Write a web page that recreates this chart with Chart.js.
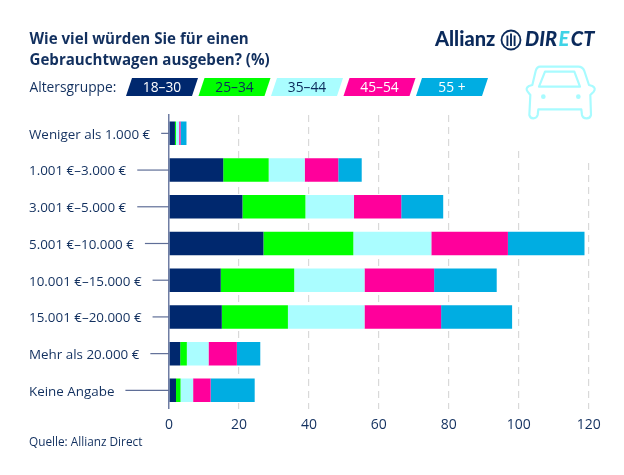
<!DOCTYPE html>
<html lang="de">
<head>
<meta charset="utf-8">
<style>html,body{margin:0;padding:0;background:#fff}canvas{display:block}</style>
<script src="https://cdn.jsdelivr.net/npm/chart.js@4"></script>
</head>
<body>
<canvas id="c" width="624" height="475"></canvas>
<script>
const categories = ["Weniger als 1.000 €","1.001 €–3.000 €","3.001 €–5.000 €","5.001 €–10.000 €","10.001 €–15.000 €","15.001 €–20.000 €","Mehr als 20.000 €","Keine Angabe"];
const seriesNames = ["18–30","25–34","35–44","45–54","55 +"];
const age18to30 = [1.7,15.5,21,27,14.8,15.1,3.2,2];
const age25to34 = [0.3,13,18,25.7,21,18.9,1.9,1.3];
const age35to44 = [0.9,10.3,13.9,22.3,20.1,21.9,6.2,3.6];
const age45to54 = [0.4,9.6,13.5,21.9,19.9,21.9,8.1,5];
const age55plus = [1.7,6.7,12,21.9,17.9,20.3,6.7,12.6];
const seriesValues = [age18to30,age25to34,age35to44,age45to54,age55plus];
const seriesColors = ["#00286E","#00FF00","#AAFDFF","#FF009B","#00ADE2"];
const legendTextColors = ["#ffffff","#0B2A5B","#0B2A5B","#ffffff","#ffffff"];
const titleLines = ["Wie viel würden Sie für einen","Gebrauchtwagen ausgeben? (%)"];
const legendTitle = "Altersgruppe:";
const sourceText = "Quelle: Allianz Direct";
const NAVY = "#12305F";
const FONT = '"Open Sans",sans-serif';
const LOGOFONT = '"Lato",sans-serif';
const LABEL_SIZE = 13.4;

const decorations = {
  id:"decorations",
  beforeDatasetsDraw(chart){
    const {ctx, scales:{x,y}} = chart;
    ctx.save();
    // white halo around the car icon hides the top of the right grid lines
    ctx.fillStyle="#fff";
    ctx.beginPath();
    ctx.moveTo(x.getPixelForValue(90),y.top-5);
    ctx.lineTo(620,y.top-5);ctx.lineTo(620,160);
    ctx.lineTo(x.getPixelForValue(110),160);ctx.lineTo(x.getPixelForValue(110),149);
    ctx.lineTo(x.getPixelForValue(90),149);ctx.closePath();ctx.fill();
    // leader lines from each label to the axis
    ctx.font=LABEL_SIZE+'px '+FONT;
    ctx.strokeStyle="#5F6E97";ctx.lineWidth=1.2;
    categories.forEach((c,i)=>{
      const py=y.getPixelForValue(i);
      ctx.beginPath();
      ctx.moveTo(y.left+ctx.measureText(c).width+11,py);
      ctx.lineTo(x.left,py);ctx.stroke();
    });
    ctx.restore();
  },
  afterDraw(chart){
    const ctx=chart.ctx;
    ctx.save();
    ctx.textBaseline="middle";ctx.textAlign="left";
    ctx.fillStyle=NAVY;
    ctx.font='bold 15.1px '+FONT;
    ctx.fillText(titleLines[0],29.5,40);
    ctx.fillText(titleLines[1],29.5,60.5);
    ctx.font='13.8px '+FONT;
    ctx.fillText(legendTitle,29.5,88.5);
    ctx.font='11.8px '+FONT;
    ctx.fillText(sourceText,29,443);
    // legend chips
    const w=66,h=18,skew=6,step=72.5,x0=126,y0=78;
    seriesNames.forEach((n,i)=>{
      const l=x0+i*step;
      ctx.fillStyle=seriesColors[i];
      ctx.beginPath();
      ctx.moveTo(l,y0+h);ctx.lineTo(l+skew,y0);ctx.lineTo(l+skew+w,y0);ctx.lineTo(l+w,y0+h);ctx.closePath();ctx.fill();
      ctx.fillStyle=legendTextColors[i];
      ctx.textAlign="center";ctx.font='13.8px '+FONT;
      ctx.fillText(n,l+(w+skew)/2,y0+h/2+1.5);
    });
    // logo
    ctx.textAlign="left";ctx.fillStyle="#0B2A5B";
    ctx.font='900 20px '+LOGOFONT;
    ctx.fillText("Allianz",435,40);
    ctx.strokeStyle="#0B2A5B";ctx.lineWidth=1.8;
    ctx.beginPath();ctx.arc(511,40,9.5,0,Math.PI*2);ctx.stroke();
    ctx.lineWidth=1.9;
    [-3.6,0,3.6].forEach((d,i)=>{ctx.beginPath();ctx.moveTo(511+d,i==1?33.5:35.5);ctx.lineTo(511+d,46);ctx.stroke();});
    ctx.font='italic 900 20px '+LOGOFONT;
    let px=525;
    [["DIR","#0B2A5B"],["E","#3FD3E6"],["CT","#0B2A5B"]].forEach(([t,col])=>{
      ctx.fillStyle=col;ctx.fillText(t,px,40);px+=ctx.measureText(t).width+1.5;
    });
    // car icon
    ctx.translate(515,55);ctx.scale(1/3,1/3);
    ctx.strokeStyle="#A8FBFF";ctx.lineWidth=6.5;ctx.lineJoin="round";
    ctx.beginPath();
    ctx.moveTo(75,35);ctx.lineTo(190,35);ctx.quadraticCurveTo(203,35,208,48);ctx.lineTo(222,90);
    ctx.lineTo(232,93);ctx.quadraticCurveTo(244,100,236,110);ctx.lineTo(226,120);ctx.lineTo(228,180);
    ctx.quadraticCurveTo(226,190,215,190);ctx.quadraticCurveTo(203,190,201,180);ctx.lineTo(199,163);
    ctx.lineTo(70,163);ctx.lineTo(68,180);ctx.quadraticCurveTo(65,190,55,190);ctx.quadraticCurveTo(45,190,43,180);
    ctx.lineTo(46,120);ctx.lineTo(38,110);ctx.quadraticCurveTo(30,100,42,93);ctx.lineTo(52,90);
    ctx.lineTo(62,48);ctx.quadraticCurveTo(66,35,75,35);ctx.closePath();ctx.stroke();
    ctx.beginPath();ctx.moveTo(90,50);ctx.lineTo(178,50);ctx.lineTo(195,95);ctx.lineTo(72,95);ctx.closePath();ctx.stroke();
    ctx.fillStyle="#A8FBFF";
    [85,190].forEach(cx=>{ctx.beginPath();ctx.arc(cx,125,7,0,Math.PI*2);ctx.fill();});
    ctx.restore();
  }
};

new Chart(document.getElementById("c"),{
  type:"bar",
  data:{
    labels:categories,
    datasets:seriesNames.map((n,i)=>({label:n,data:seriesValues[i],backgroundColor:seriesColors[i],borderWidth:0,barPercentage:0.64,categoryPercentage:1}))
  },
  options:{
    indexAxis:"y",responsive:false,animation:false,devicePixelRatio:1,
    layout:{padding:{top:115,left:29,right:35.3,bottom:0}},
    plugins:{legend:{display:false},title:{display:false},tooltip:{enabled:false}},
    scales:{
      x:{stacked:true,min:0,max:120,
        ticks:{stepSize:20,color:NAVY,font:{family:FONT,size:14},padding:7.5,maxRotation:0},
        border:{display:false,dash:[7,5]},
        grid:{drawTicks:false,lineWidth:1.2,color:c=>c.tick&&c.tick.value===0?"rgba(0,0,0,0)":"#D9D9D9"},
        afterFit(s){s.height=66.3;}},
      y:{stacked:true,
        ticks:{color:NAVY,font:{family:FONT,size:LABEL_SIZE},crossAlign:"far",padding:0,labelOffset:1.5},
        border:{display:true,color:"#6F7DA3",width:1.5},
        grid:{display:false,drawTicks:false},
        afterFit(s){s.width=140;}}
    }
  },
  plugins:[decorations]
});
</script>
</body>
</html>
